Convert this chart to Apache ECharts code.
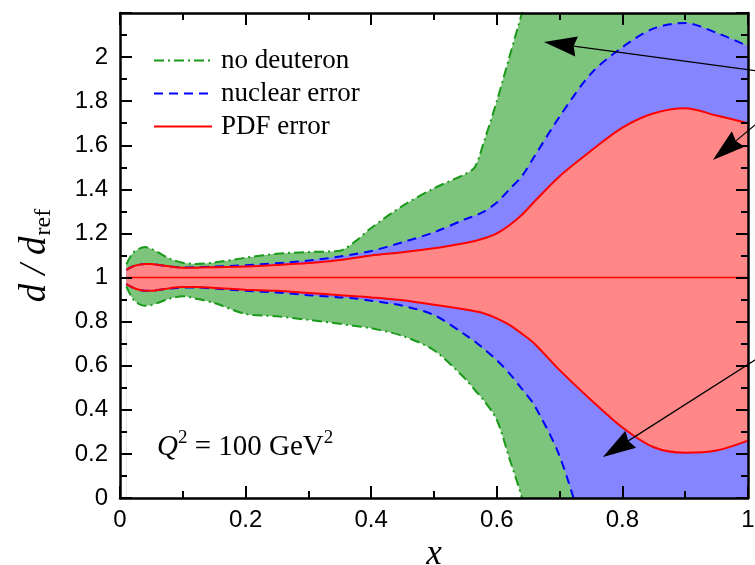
<!DOCTYPE html>
<html><head><meta charset="utf-8">
<script src="https://cdn.jsdelivr.net/npm/echarts@6/dist/echarts.min.js"></script>
<style>html,body{margin:0;padding:0;background:#fff}#c{width:755px;height:565px}</style>
</head><body><div id="c"></div>
<script>
// ---- data ----
const xs = [0.01,0.02,0.03,0.04,0.05,0.06,0.08,0.10,0.12,0.15,0.20,0.25,0.30,0.35,0.375,0.40,0.45,0.50,0.55,0.565,0.58,0.60,0.62,0.64,0.66,0.70,0.75,0.80,0.85,0.90,0.95,1.00];
const pdfHigh = [1.035,1.05,1.058,1.062,1.062,1.058,1.05,1.045,1.045,1.047,1.05,1.057,1.066,1.08,1.09,1.10,1.115,1.133,1.157,1.166,1.178,1.20,1.237,1.285,1.345,1.46,1.575,1.68,1.745,1.768,1.735,1.70];
const pdfLow = [0.97,0.955,0.945,0.94,0.94,0.943,0.952,0.957,0.957,0.953,0.945,0.94,0.93,0.92,0.915,0.91,0.897,0.877,0.855,0.847,0.837,0.815,0.785,0.745,0.70,0.58,0.445,0.32,0.23,0.205,0.215,0.26];
const nucHigh = [1.035,1.05,1.058,1.062,1.062,1.058,1.05,1.046,1.047,1.05,1.056,1.065,1.077,1.095,1.107,1.12,1.16,1.205,1.265,1.28,1.30,1.34,1.40,1.46,1.55,1.73,1.925,2.045,2.13,2.155,2.11,2.05];
const nucLow = [0.97,0.955,0.945,0.94,0.94,0.943,0.95,0.955,0.955,0.95,0.94,0.932,0.92,0.91,0.905,0.895,0.872,0.83,0.74,0.71,0.675,0.625,0.565,0.495,0.42,0.19,-0.25,-0.6,-0.85,-1.0,-1.1,-1.2];
const noDeutHigh = [1.06,1.11,1.13,1.138,1.13,1.115,1.085,1.067,1.062,1.068,1.09,1.108,1.116,1.122,1.165,1.225,1.325,1.405,1.47,1.50,1.62,1.80,2.0,2.2,2.4,2.8,3.3,3.8,4.2,4.5,4.7,4.8];
const noDeutLow = [0.96,0.905,0.88,0.872,0.875,0.885,0.905,0.915,0.905,0.885,0.835,0.824,0.808,0.79,0.78,0.77,0.735,0.67,0.54,0.49,0.44,0.355,0.18,0.0,-0.25,-0.7,-1.1,-1.4,-1.6,-1.8,-2.0,-2.1];
const centralX = [0.01, 1.0];
const centralY = [1, 1];
const bandNames = ['no deuteron', 'nuclear error', 'PDF error'];
const xTicks = [0, 0.2, 0.4, 0.6, 0.8, 1];
const yTicks = [0, 0.2, 0.4, 0.6, 0.8, 1, 1.2, 1.4, 1.6, 1.8, 2];
const arrowTails = [[1.067, 1.917], [1.067, 1.824], [1.067, 0.727]];
const arrowTips = [[0.675, 2.068], [0.944, 1.533], [0.769, 0.186]];

// ---- chart ----
const chart = echarts.init(document.getElementById('c'));
const SM = 0.3;
const GREEN = '#7dc47d', BLUE = '#8585ff', RED = '#ff8787';
const series = [];
// nested bands painted from the outside in: each curve filled down to the x axis
const fills = [
  [noDeutHigh, GREEN], [nucHigh, BLUE], [pdfHigh, RED],
  [pdfLow, BLUE], [nucLow, GREEN], [noDeutLow, '#ffffff']
];
fills.forEach((f, k) => {
  series.push({
    name: 'fill' + k, type: 'line', data: xs.map((x, i) => [x, f[0][i]]), symbol: 'none', smooth: SM,
    lineStyle: {width: 0, opacity: 0}, areaStyle: {color: f[1], opacity: 1, origin: 'start'},
    silent: true, z: 1 + k * 0.1
  });
});
const bands = [
  {name: bandNames[0], low: noDeutLow, high: noDeutHigh, line: '#1a9a1a', dash: [10, 4, 2, 4]},
  {name: bandNames[1], low: nucLow, high: nucHigh, line: '#0000ff', dash: [9, 6]},
  {name: bandNames[2], low: pdfLow, high: pdfHigh, line: '#ff0000', dash: 'solid'}
];
bands.forEach((b, k) => {
  [b.low, b.high].forEach((arr) => {
    series.push({
      name: b.name, type: 'line', data: xs.map((x, i) => [x, arr[i]]), symbol: 'none', smooth: SM,
      lineStyle: {color: b.line, width: 2, type: b.dash}, itemStyle: {color: b.line, opacity: 0},
      silent: true, z: 3 + k * 0.1
    });
  });
});
series.push({
  name: 'central', type: 'line', data: centralX.map((x, i) => [x, centralY[i]]), symbol: 'none',
  lineStyle: {color: '#ff0000', width: 1.5}, silent: true, z: 4
});
series.push({
  name: 'arrows', type: 'custom', clip: false, silent: true, z: 10,
  data: arrowTails.map((t, i) => [t[0], t[1], arrowTips[i][0], arrowTips[i][1]]),
  renderItem: function (params, api) {
    const p0 = api.coord([api.value(0), api.value(1)]);
    const p1 = api.coord([api.value(2), api.value(3)]);
    const dx = p1[0] - p0[0], dy = p1[1] - p0[1];
    const len = Math.hypot(dx, dy);
    const ux = dx / len, uy = dy / len, nx = -uy, ny = ux;
    const L = 33, W = 10, N = 3;
    const bx = p1[0] - ux * L, by = p1[1] - uy * L;
    const mx = p1[0] - ux * (L - N), my = p1[1] - uy * (L - N);
    return {type: 'group', children: [
      {type: 'line', shape: {x1: p0[0], y1: p0[1], x2: mx, y2: my}, style: {stroke: '#000', lineWidth: 1.2}},
      {type: 'polygon', shape: {points: [p1, [bx + nx * W, by + ny * W], [mx, my], [bx - nx * W, by - ny * W]]}, style: {fill: '#000'}}
    ]};
  }
});

const axisCommon = {
  z: 20,
  axisLine: {show: true, onZero: false, lineStyle: {color: '#000', width: 2.5}},
  axisTick: {show: true, inside: true, length: 12, lineStyle: {color: '#000', width: 2}},
  minorTick: {show: true, splitNumber: 2, length: 7, lineStyle: {color: '#000', width: 2}},
  splitLine: {show: false}
};
const labelStyle = {color: '#000', fontSize: 24, fontFamily: 'Liberation Sans'};
const fmt = (ticks) => (v) => {
  const t = ticks.find(u => Math.abs(u - v) < 1e-6);
  return t === undefined ? '' : String(t);
};

chart.setOption({
  animation: false,
  backgroundColor: '#fff',
  grid: {left: 120, right: 7, top: 13, bottom: 67, containLabel: false, outerBoundsMode: 'none'},
  legend: {
    data: bandNames, orient: 'vertical', left: 148, top: 42, itemWidth: 58, itemHeight: 14, itemGap: 6,
    selectedMode: false, itemStyle: {opacity: 0},
    textStyle: {fontFamily: 'Liberation Serif', fontSize: 27, color: '#000', padding: [0, 0, 0, 4]}
  },
  xAxis: [
    Object.assign({type: 'value', min: 0, max: 1, interval: 0.2, position: 'bottom',
      axisLabel: Object.assign({margin: 10, formatter: fmt(xTicks)}, labelStyle),
      name: 'x', nameLocation: 'middle', nameGap: 33,
      nameTextStyle: {fontFamily: 'Liberation Serif', fontStyle: 'italic', fontSize: 35, color: '#000'}}, axisCommon),
    Object.assign({type: 'value', min: 0, max: 1, interval: 0.2, position: 'top', axisLabel: {show: false}}, axisCommon)
  ],
  yAxis: [
    Object.assign({type: 'value', min: 0, max: 2.2, interval: 0.2, position: 'left',
      axisLabel: Object.assign({margin: 12, formatter: fmt(yTicks)}, labelStyle),
      name: '{a|d / d}{b|ref}', nameLocation: 'middle', nameGap: 64, nameRotate: 90,
      nameTextStyle: {color: '#000', rich: {
        a: {fontFamily: 'Liberation Serif', fontStyle: 'italic', fontSize: 37, color: '#000'},
        b: {fontFamily: 'Liberation Serif', fontSize: 24, color: '#000', padding: [18, 0, 0, 1]}
      }}}, axisCommon),
    Object.assign({type: 'value', min: 0, max: 2.2, interval: 0.2, position: 'right', axisLabel: {show: false}}, axisCommon)
  ],
  graphic: [{
    type: 'text', left: 157, top: 429, z: 20,
    style: {
      text: '{q|Q}{s|2}{t| = 100 GeV}{s|2}',
      rich: {
        q: {fontFamily: 'Liberation Serif', fontStyle: 'italic', fontSize: 29, color: '#000'},
        t: {fontFamily: 'Liberation Serif', fontSize: 29, color: '#000'},
        s: {fontFamily: 'Liberation Serif', fontSize: 19, color: '#000', padding: [0, 0, 18, 0]}
      }
    }
  }],
  series: series
});
</script></body></html>
